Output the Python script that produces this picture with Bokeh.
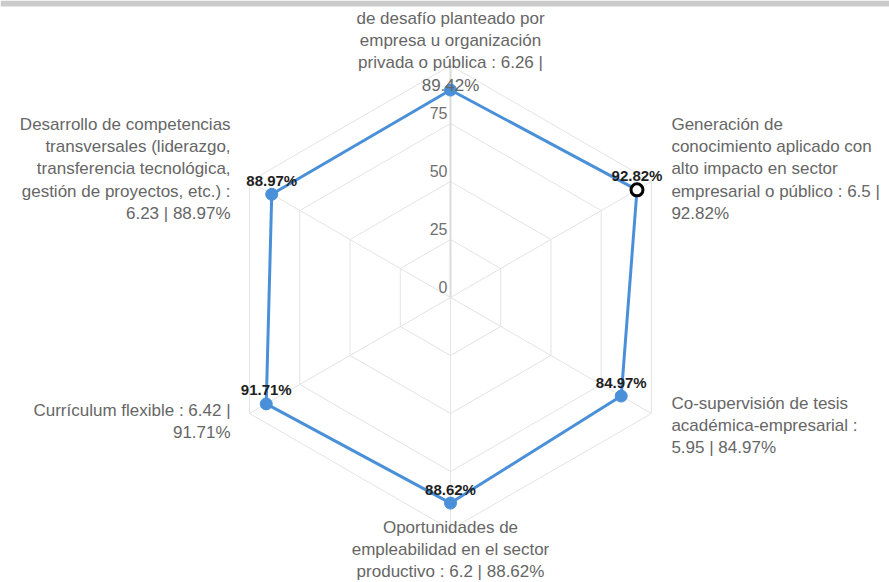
import math
from bokeh.plotting import figure
from bokeh.models import Range1d
from bokeh.embed import file_html
from bokeh.resources import INLINE
from bokeh.core.properties import value

# ---- data ----
categories = [
    "de desafío planteado por\nempresa u organización\nprivada o pública",
    "Generación de\nconocimiento aplicado con\nalto impacto en sector\nempresarial o público",
    "Co-supervisión de tesis\nacadémica-empresarial",
    "Oportunidades de\nempleabilidad en el sector\nproductivo",
    "Currículum flexible",
    "Desarrollo de competencias\ntransversales (liderazgo,\ntransferencia tecnológica,\ngestión de proyectos, etc.)",
]
scores = [6.26, 6.5, 5.95, 6.2, 6.42, 6.23]
percentages = [89.42, 92.82, 84.97, 88.62, 91.71, 88.97]
sep_score = [" : ", " : ", " :\n", " : ", " : ", " :\n"]
sep_pct = [" |\n", " |\n", " | ", " | ", " |\n", " | "]
ring_values = [25, 50, 75, 100]
tick_labels = ["0", "25", "50", "75"]
tick_values = [0, 25, 50, 75]
highlight_index = 1

# ---- layout ----
W, H = 889, 582
K = 2.32            # px per unit
CX, CY = 450, 297   # centre in figure px
FONT = "Liberation Sans"

x0, x1 = -CX / K, (W - CX) / K
y0, y1 = -(H - CY) / K, CY / K

p = figure(width=W, height=H, output_backend="svg", toolbar_location=None,
           x_range=Range1d(x0, x1), y_range=Range1d(y0, y1),
           min_border=0)
p.axis.visible = False
p.grid.visible = False
p.outline_line_color = None
p.background_fill_color = "white"

# grey band at the very top of the frame
band_px = 6
p.quad(left=[x0], right=[x1], top=[y1], bottom=[y1 - band_px / K],
       fill_color="#cbcbcb", line_color=None)

n = len(categories)
angles = [math.pi / 2 - 2 * math.pi * i / n for i in range(n)]

# rings
for r in ring_values:
    xs = [r * math.cos(a) for a in angles] + [r * math.cos(angles[0])]
    ys = [r * math.sin(a) for a in angles] + [r * math.sin(angles[0])]
    p.line(xs, ys, line_color="#e3e3e3", line_width=1)

# spokes
for i, a in enumerate(angles):
    p.line([0, 100 * math.cos(a)], [0, 100 * math.sin(a)],
           line_color="#dcdcdc" if i == 0 else "#e3e3e3",
           line_width=2 if i == 0 else 1)

# tick labels
p.text(x=[0] * len(tick_values), y=tick_values, text=tick_labels,
       text_align="right", text_baseline="middle", x_offset=-3, y_offset=-11,
       text_font=value(FONT), text_font_size="16px", text_color="#707070")

# series
px = [v * math.cos(a) for v, a in zip(percentages, angles)]
py = [v * math.sin(a) for v, a in zip(percentages, angles)]
p.line(px + [px[0]], py + [py[0]], line_color="#4a90d9", line_width=3)
p.scatter(px, py, size=12, fill_color="#4a90d9", line_color="#4a90d9")
p.scatter([px[highlight_index]], [py[highlight_index]], size=12,
          fill_color="white", line_color="black", line_width=3)

# data labels (top one hidden by overlap)
p.text(x=px[1:], y=py[1:], text=[f"{v:.2f}%" for v in percentages[1:]],
       text_align="center", text_baseline="middle", y_offset=-14,
       text_font=value(FONT), text_font_size="15px", text_font_style="bold",
       text_color="#1e1e1e")

# category labels
label_place = [
    ("center", "top", 0, -57),
    ("left", "top", 20, -67),
    ("left", "top", 20, -20),
    ("center", "top", 0, -12),
    ("right", "top", -19, -13),
    ("right", "top", -19, -67),
]
for i, a in enumerate(angles):
    txt = f"{categories[i]}{sep_score[i]}{scores[i]}{sep_pct[i]}{percentages[i]:.2f}%"
    al, bl, xo, yo = label_place[i]
    p.text(x=[100 * math.cos(a)], y=[100 * math.sin(a)], text=[txt],
           text_align=al, text_baseline=bl, x_offset=xo, y_offset=yo,
           text_font=value(FONT), text_font_size="17px", text_color="#666666",
           text_line_height=1.18)

open("out.html", "w").write(file_html(p, INLINE))
